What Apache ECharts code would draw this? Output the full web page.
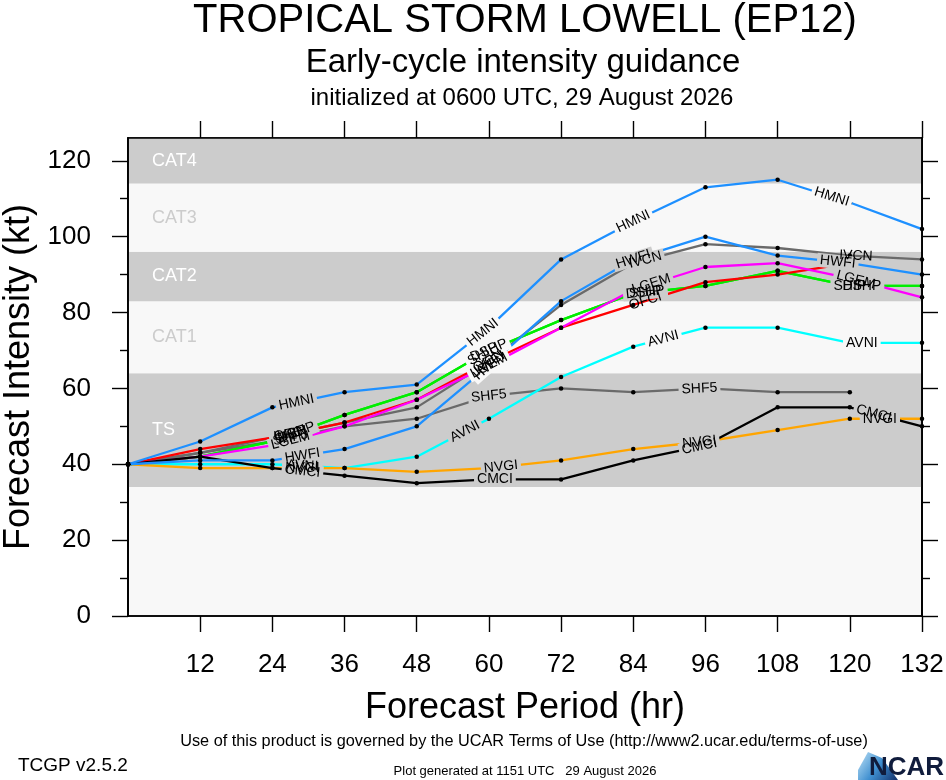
<!DOCTYPE html>
<html>
<head>
<meta charset="utf-8">
<title>Tropical Storm Lowell (EP12) - early-cycle intensity guidance</title>
<script src="https://cdn.jsdelivr.net/npm/echarts@6/dist/echarts.min.js"></script>
<style>
  html, body { margin: 0; padding: 0; background: #ffffff; }
  #chart { width: 946px; height: 780px; }
</style>
</head>
<body>
<div id="chart"></div>
<script>
// forecast hours and tick values
var hours = [0, 12, 24, 36, 48, 60, 72, 84, 96, 108, 120, 132];
var xTickValues = [12, 24, 36, 48, 60, 72, 84, 96, 108, 120, 132];
var yTickValues = [0, 20, 40, 60, 80, 100, 120];
var yMinorValues = [10, 30, 50, 70, 90, 110];

// intensity forecasts (kt)
var hmni = [40, 46, 55, 59, 61, 76, 94, 104, 113, 115, 109, 102];
var hwfi = [40, 41, 41, 44, 50, 66, 83, 94, 100, 95, 93, 90];
var ivcn = [40, 43, 47, 51, 55, 67, 82, 93, 98, 97, 95, 94];
var shf5 = [40, 43, 46, 50, 52, 58, 60, 59, 60, 59, 59, null];
var lgem = [40, 42, 45, 50, 57, 66, 76, 86, 92, 93, 89, 84];
var ship = [40, 42, 46, 53, 59, 70, 78, 85, 87, 91, 87, 87];
var dshp = [40, 42, 46, 53, 59, 70, 78, 85, 87, 91, 87, 87];
var ofci = [40, 44, 47, 51, 57, 67, 76, 82, 88, 90, 93, null];
var avni = [40, 40, 40, 39, 42, 52, 63, 71, 76, 76, 72, 72];
var nvgi = [40, 39, 39, 39, 38, 39, 41, 44, 46, 49, 52, 52];
var cmci = [40, 42, 39, 37, 35, 36, 36, 41, 45, 55, 55, 50];

// Saffir-Simpson bands
var bandNames = ['TS', 'CAT1', 'CAT2', 'CAT3', 'CAT4'];
var bandLow = [34, 64, 83, 96, 114];
var bandHigh = [64, 83, 96, 114, 126];

var FONT = '"Liberation Sans", Arial, sans-serif';
var NARROW = '"Liberation Sans Narrow", "Liberation Sans", Arial, sans-serif';
var GRAY_BAND = '#cccccc';
var LIGHT_BG = '#f8f8f8';

// model name, data, line colour (drawn in this order)
var models = [
    { name: 'SHF5', data: shf5, color: '#6a6a6a' },
    { name: 'IVCN', data: ivcn, color: '#6a6a6a' },
    { name: 'DSHP', data: dshp, color: '#00ee00' },
    { name: 'SHIP', data: ship, color: '#00ee00' },
    { name: 'OFCI', data: ofci, color: '#ff0000' },
    { name: 'LGEM', data: lgem, color: '#ff00ff' },
    { name: 'AVNI', data: avni, color: '#00ffff' },
    { name: 'NVGI', data: nvgi, color: '#ffa500' },
    { name: 'CMCI', data: cmci, color: '#000000' },
    { name: 'HWFI', data: hwfi, color: '#1e90ff' },
    { name: 'HMNI', data: hmni, color: '#1e90ff' }
];

// where along each line the model name is written (forecast hour)
var labelHours = {
    HMNI: [28, 59, 84, 117],
    HWFI: [29, 60, 84, 118],
    IVCN: [27, 60, 86, 121],
    SHF5: [27, 60, 95],
    LGEM: [27, 60, 87, 121],
    SHIP: [27, 59, 86, 120],
    DSHP: [28, 60, 86, 122],
    OFCI: [27, 60, 86],
    AVNI: [29, 56, 89, 122],
    NVGI: [29, 62, 95, 125],
    CMCI: [29, 61, 95, 124]
};

var chart = echarts.init(document.getElementById('chart'));

var series = [];

// bands as a mark area on an empty series
series.push({
    type: 'line',
    data: [],
    silent: true,
    markArea: {
        silent: true,
        data: bandNames.map(function (name, i) {
            var gray = (i % 2 === 0);
            return [{
                name: name,
                yAxis: bandLow[i],
                itemStyle: { color: gray ? GRAY_BAND : LIGHT_BG },
                label: { color: gray ? '#ffffff' : GRAY_BAND }
            }, {
                yAxis: bandHigh[i]
            }];
        }),
        label: {
            show: true,
            position: 'insideLeft',
            offset: [19, 0],
            fontSize: 18,
            fontFamily: FONT
        }
    }
});

models.forEach(function (m) {
    var pts = [];
    hours.forEach(function (h, i) {
        if (m.data[i] !== null) pts.push([h, m.data[i]]);
    });
    series.push({
        name: m.name,
        type: 'line',
        data: pts,
        symbol: 'circle',
        symbolSize: 4.5,
        showAllSymbol: true,
        itemStyle: { color: '#000000' },
        lineStyle: { color: m.color, width: 2.3 },
        emphasis: { disabled: true }
    });
});

function tickAxis(extra) {
    var base = {
        z: 10,
        axisLine: { show: true, onZero: false, lineStyle: { color: '#000', width: 1.6 } },
        axisTick: { show: true, inside: false, lineStyle: { color: '#000', width: 1.4 } },
        axisLabel: { show: false },
        splitLine: { show: false }
    };
    return echarts.util.merge(base, extra, true);
}

var option = {
    animation: false,
    backgroundColor: '#ffffff',
    grid: {
        left: 128, right: 24, top: 138, bottom: 164,
        outerBoundsMode: 'none',
        containLabel: false,
        show: true,
        backgroundColor: LIGHT_BG,
        borderColor: '#000',
        borderWidth: 1.6
    },
    xAxis: [
        tickAxis({
            type: 'value', position: 'bottom', min: 0, max: 132, interval: 12,
            axisTick: { length: 16, customValues: xTickValues },
            axisLabel: {
                show: true, customValues: xTickValues, margin: 36,
                fontSize: 26, color: '#000', fontFamily: FONT
            },
            name: 'Forecast Period (hr)',
            nameLocation: 'middle',
            nameGap: 92,
            nameTextStyle: { fontSize: 36, color: '#000', fontFamily: FONT, verticalAlign: 'middle' }
        }),
        tickAxis({
            type: 'value', position: 'top', min: 0, max: 132, interval: 12,
            axisTick: { length: 17, customValues: xTickValues }
        })
    ],
    yAxis: [
        tickAxis({
            type: 'value', position: 'left', min: 0, max: 126,
            axisTick: { length: 16, customValues: yTickValues },
            axisLabel: {
                show: true, customValues: yTickValues, margin: 37,
                fontSize: 26, color: '#000', fontFamily: FONT
            },
            name: 'Forecast Intensity (kt)',
            nameLocation: 'middle',
            nameGap: 92,
            nameTextStyle: { fontSize: 36, color: '#000', fontFamily: FONT, verticalAlign: 'middle' }
        }),
        tickAxis({
            type: 'value', position: 'left', min: 0, max: 126,
            axisTick: { length: 8, customValues: yMinorValues }
        }),
        tickAxis({
            type: 'value', position: 'right', min: 0, max: 126,
            axisTick: { length: 16, customValues: yTickValues }
        }),
        tickAxis({
            type: 'value', position: 'right', min: 0, max: 126,
            axisTick: { length: 8, customValues: yMinorValues }
        })
    ],
    series: series
};

chart.setOption(option);

// texts outside the plot
var graphics = [
    { type: 'text', x: 525, y: 21, style: { text: 'TROPICAL STORM LOWELL (EP12)', font: '40px ' + FONT, fill: '#000', align: 'center', verticalAlign: 'middle' } },
    { type: 'text', x: 523, y: 63, style: { text: 'Early-cycle intensity guidance', font: '33px ' + FONT, fill: '#000', align: 'center', verticalAlign: 'middle' } },
    { type: 'text', x: 522, y: 98, style: { text: 'initialized at 0600 UTC, 29 August 2026', font: '24px ' + FONT, fill: '#000', align: 'center', verticalAlign: 'middle' } },
    { type: 'text', x: 524, y: 742, style: { text: 'Use of this product is governed by the UCAR Terms of Use (http://www2.ucar.edu/terms-of-use)', font: '16.3px ' + NARROW, fill: '#000', align: 'center', verticalAlign: 'middle' } },
    { type: 'text', x: 18, y: 766, style: { text: 'TCGP v2.5.2', font: '19px ' + NARROW, fill: '#000', align: 'left', verticalAlign: 'middle' } },
    { type: 'text', x: 525, y: 771, style: { text: 'Plot generated at 1151 UTC   29 August 2026', font: '13px ' + NARROW, fill: '#000', align: 'center', verticalAlign: 'middle' } },
    {
        type: 'polygon',
        shape: { points: [[858, 770], [868, 752], [882, 758], [898, 780], [858, 780]] },
        style: {
            fill: new echarts.graphic.LinearGradient(0, 0, 1, 1, [
                { offset: 0, color: '#bfe3f7' },
                { offset: 0.5, color: '#3f8fd0' },
                { offset: 1, color: '#12306a' }
            ])
        }
    },
    { type: 'text', x: 944, y: 768, style: { text: 'NCAR', font: 'bold 26px ' + NARROW, fill: '#101c3c', align: 'right', verticalAlign: 'middle' } }
];

// band colour under a label, or null when the label box crosses a band edge
function bandColorAt(v) {
    var lo = v - 1.8, hi = v + 1.8;
    for (var i = 0; i < bandNames.length; i++) {
        var inLo = lo >= bandLow[i] && lo < bandHigh[i];
        var inHi = hi >= bandLow[i] && hi < bandHigh[i];
        if (inLo && inHi) return (i % 2 === 0) ? GRAY_BAND : LIGHT_BG;
        if (inLo || inHi) return null;
    }
    return LIGHT_BG;
}

// model names written along the lines, rotated with the segment
models.forEach(function (m) {
    (labelHours[m.name] || []).forEach(function (h) {
        var i = Math.floor(h / 12);
        if (i >= hours.length - 1) i = hours.length - 2;
        var v0 = m.data[i], v1 = m.data[i + 1];
        if (v0 === null || v1 === null) return;
        var p0 = chart.convertToPixel({ gridIndex: 0 }, [hours[i], v0]);
        var p1 = chart.convertToPixel({ gridIndex: 0 }, [hours[i + 1], v1]);
        var t = (h - hours[i]) / (hours[i + 1] - hours[i]);
        var x = p0[0] + t * (p1[0] - p0[0]);
        var y = p0[1] + t * (p1[1] - p0[1]);
        var rot = -Math.atan2(p1[1] - p0[1], p1[0] - p0[0]);
        var bg = bandColorAt(v0 + t * (v1 - v0));
        if (bg) {
            graphics.push({
                type: 'text', x: x, y: y, rotation: rot, z: 50, silent: true,
                style: {
                    text: m.name, font: '14px ' + FONT, fill: 'rgba(0,0,0,0)',
                    backgroundColor: bg, padding: [0, 3],
                    align: 'center', verticalAlign: 'middle'
                }
            });
        }
        graphics.push({
            type: 'text', x: x, y: y, rotation: rot, z: 60, silent: true,
            style: {
                text: m.name, font: '14px ' + FONT, fill: '#000',
                align: 'center', verticalAlign: 'middle'
            }
        });
    });
});

chart.setOption({ graphic: graphics });

window.addEventListener('resize', function () {
    chart.resize();
});
</script>
</body>
</html>
